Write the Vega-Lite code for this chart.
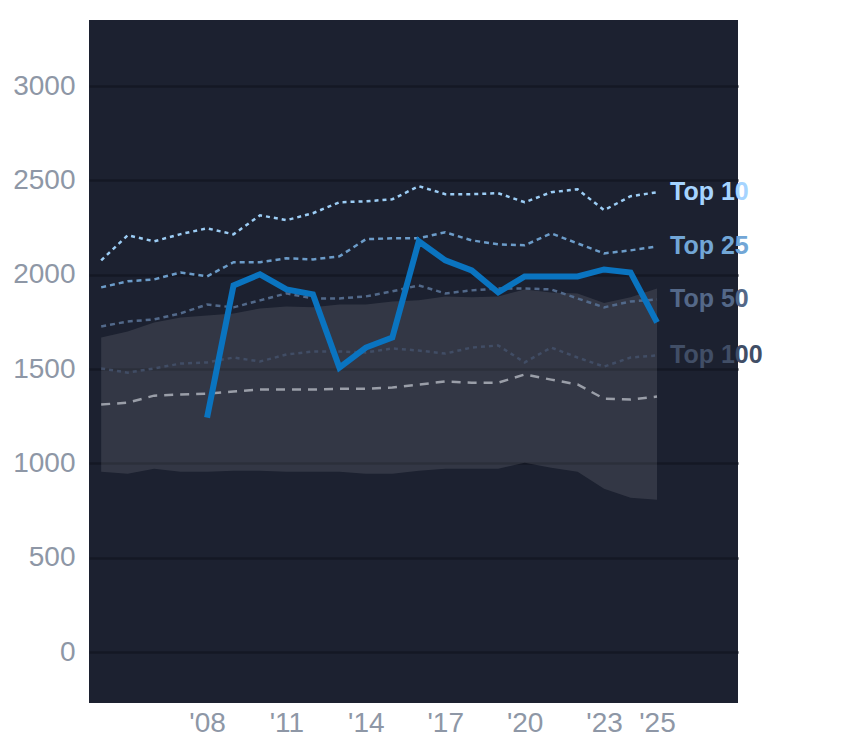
{
  "$schema": "https://vega.github.io/schema/vega-lite/v6.json",
  "width": 649,
  "height": 683,
  "autosize": "none",
  "padding": {"left": 89, "top": 20, "right": 106, "bottom": 45},
  "datasets": {
    "tiers": [
      {"year": 2004, "series": "Top 10", "value": 2076}, {"year": 2005, "series": "Top 10", "value": 2209},
      {"year": 2006, "series": "Top 10", "value": 2177}, {"year": 2007, "series": "Top 10", "value": 2215},
      {"year": 2008, "series": "Top 10", "value": 2246}, {"year": 2009, "series": "Top 10", "value": 2214},
      {"year": 2010, "series": "Top 10", "value": 2315}, {"year": 2011, "series": "Top 10", "value": 2289},
      {"year": 2012, "series": "Top 10", "value": 2326}, {"year": 2013, "series": "Top 10", "value": 2384},
      {"year": 2014, "series": "Top 10", "value": 2389}, {"year": 2015, "series": "Top 10", "value": 2400},
      {"year": 2016, "series": "Top 10", "value": 2469}, {"year": 2017, "series": "Top 10", "value": 2427},
      {"year": 2018, "series": "Top 10", "value": 2427}, {"year": 2019, "series": "Top 10", "value": 2432},
      {"year": 2020, "series": "Top 10", "value": 2384}, {"year": 2021, "series": "Top 10", "value": 2437},
      {"year": 2022, "series": "Top 10", "value": 2453}, {"year": 2023, "series": "Top 10", "value": 2342},
      {"year": 2024, "series": "Top 10", "value": 2416}, {"year": 2025, "series": "Top 10", "value": 2437},

      {"year": 2004, "series": "Top 25", "value": 1933}, {"year": 2005, "series": "Top 25", "value": 1965},
      {"year": 2006, "series": "Top 25", "value": 1975}, {"year": 2007, "series": "Top 25", "value": 2012},
      {"year": 2008, "series": "Top 25", "value": 1991}, {"year": 2009, "series": "Top 25", "value": 2066},
      {"year": 2010, "series": "Top 25", "value": 2066}, {"year": 2011, "series": "Top 25", "value": 2087},
      {"year": 2012, "series": "Top 25", "value": 2081}, {"year": 2013, "series": "Top 25", "value": 2097},
      {"year": 2014, "series": "Top 25", "value": 2188}, {"year": 2015, "series": "Top 25", "value": 2193},
      {"year": 2016, "series": "Top 25", "value": 2193}, {"year": 2017, "series": "Top 25", "value": 2225},
      {"year": 2018, "series": "Top 25", "value": 2182}, {"year": 2019, "series": "Top 25", "value": 2161},
      {"year": 2020, "series": "Top 25", "value": 2156}, {"year": 2021, "series": "Top 25", "value": 2219},
      {"year": 2022, "series": "Top 25", "value": 2166}, {"year": 2023, "series": "Top 25", "value": 2113},
      {"year": 2024, "series": "Top 25", "value": 2129}, {"year": 2025, "series": "Top 25", "value": 2150},

      {"year": 2004, "series": "Top 50", "value": 1726}, {"year": 2005, "series": "Top 50", "value": 1752},
      {"year": 2006, "series": "Top 50", "value": 1763}, {"year": 2007, "series": "Top 50", "value": 1795},
      {"year": 2008, "series": "Top 50", "value": 1842}, {"year": 2009, "series": "Top 50", "value": 1827},
      {"year": 2010, "series": "Top 50", "value": 1864}, {"year": 2011, "series": "Top 50", "value": 1901},
      {"year": 2012, "series": "Top 50", "value": 1874}, {"year": 2013, "series": "Top 50", "value": 1874},
      {"year": 2014, "series": "Top 50", "value": 1885}, {"year": 2015, "series": "Top 50", "value": 1912},
      {"year": 2016, "series": "Top 50", "value": 1943}, {"year": 2017, "series": "Top 50", "value": 1901},
      {"year": 2018, "series": "Top 50", "value": 1917}, {"year": 2019, "series": "Top 50", "value": 1927},
      {"year": 2020, "series": "Top 50", "value": 1927}, {"year": 2021, "series": "Top 50", "value": 1922},
      {"year": 2022, "series": "Top 50", "value": 1874}, {"year": 2023, "series": "Top 50", "value": 1827},
      {"year": 2024, "series": "Top 50", "value": 1858}, {"year": 2025, "series": "Top 50", "value": 1869},

      {"year": 2004, "series": "Top 100", "value": 1503}, {"year": 2005, "series": "Top 100", "value": 1481},
      {"year": 2006, "series": "Top 100", "value": 1503}, {"year": 2007, "series": "Top 100", "value": 1529},
      {"year": 2008, "series": "Top 100", "value": 1535}, {"year": 2009, "series": "Top 100", "value": 1561},
      {"year": 2010, "series": "Top 100", "value": 1540}, {"year": 2011, "series": "Top 100", "value": 1577},
      {"year": 2012, "series": "Top 100", "value": 1593}, {"year": 2013, "series": "Top 100", "value": 1593},
      {"year": 2014, "series": "Top 100", "value": 1588}, {"year": 2015, "series": "Top 100", "value": 1609},
      {"year": 2016, "series": "Top 100", "value": 1598}, {"year": 2017, "series": "Top 100", "value": 1582},
      {"year": 2018, "series": "Top 100", "value": 1614}, {"year": 2019, "series": "Top 100", "value": 1625},
      {"year": 2020, "series": "Top 100", "value": 1535}, {"year": 2021, "series": "Top 100", "value": 1614},
      {"year": 2022, "series": "Top 100", "value": 1561}, {"year": 2023, "series": "Top 100", "value": 1513},
      {"year": 2024, "series": "Top 100", "value": 1561}, {"year": 2025, "series": "Top 100", "value": 1572},

      {"year": 2004, "series": "Median", "value": 1312}, {"year": 2005, "series": "Median", "value": 1322},
      {"year": 2006, "series": "Median", "value": 1359}, {"year": 2007, "series": "Median", "value": 1365},
      {"year": 2008, "series": "Median", "value": 1370}, {"year": 2009, "series": "Median", "value": 1381},
      {"year": 2010, "series": "Median", "value": 1391}, {"year": 2011, "series": "Median", "value": 1391},
      {"year": 2012, "series": "Median", "value": 1391}, {"year": 2013, "series": "Median", "value": 1396},
      {"year": 2014, "series": "Median", "value": 1396}, {"year": 2015, "series": "Median", "value": 1402},
      {"year": 2016, "series": "Median", "value": 1418}, {"year": 2017, "series": "Median", "value": 1434},
      {"year": 2018, "series": "Median", "value": 1428}, {"year": 2019, "series": "Median", "value": 1428},
      {"year": 2020, "series": "Median", "value": 1471}, {"year": 2021, "series": "Median", "value": 1444},
      {"year": 2022, "series": "Median", "value": 1418}, {"year": 2023, "series": "Median", "value": 1343},
      {"year": 2024, "series": "Median", "value": 1338}, {"year": 2025, "series": "Median", "value": 1354}
    ],
    "band": [
      {"year": 2004, "lo": 956, "hi": 1667}, {"year": 2005, "lo": 945, "hi": 1699},
      {"year": 2006, "lo": 972, "hi": 1747}, {"year": 2007, "lo": 956, "hi": 1773},
      {"year": 2008, "lo": 956, "hi": 1784}, {"year": 2009, "lo": 961, "hi": 1795},
      {"year": 2010, "lo": 961, "hi": 1821}, {"year": 2011, "lo": 956, "hi": 1832},
      {"year": 2012, "lo": 956, "hi": 1827}, {"year": 2013, "lo": 956, "hi": 1842},
      {"year": 2014, "lo": 945, "hi": 1842}, {"year": 2015, "lo": 945, "hi": 1858},
      {"year": 2016, "lo": 961, "hi": 1864}, {"year": 2017, "lo": 972, "hi": 1885},
      {"year": 2018, "lo": 972, "hi": 1880}, {"year": 2019, "lo": 972, "hi": 1885},
      {"year": 2020, "lo": 1004, "hi": 1922}, {"year": 2021, "lo": 977, "hi": 1906},
      {"year": 2022, "lo": 956, "hi": 1900}, {"year": 2023, "lo": 866, "hi": 1850},
      {"year": 2024, "lo": 818, "hi": 1880}, {"year": 2025, "lo": 807, "hi": 1927}
    ],
    "main": [
      {"year": 2008, "value": 1243}, {"year": 2009, "value": 1943}, {"year": 2010, "value": 2002},
      {"year": 2011, "value": 1922}, {"year": 2012, "value": 1896}, {"year": 2013, "value": 1508},
      {"year": 2014, "value": 1614}, {"year": 2015, "value": 1667}, {"year": 2016, "value": 2177},
      {"year": 2017, "value": 2076}, {"year": 2018, "value": 2023}, {"year": 2019, "value": 1906},
      {"year": 2020, "value": 1991}, {"year": 2021, "value": 1991}, {"year": 2022, "value": 1991},
      {"year": 2023, "value": 2028}, {"year": 2024, "value": 2012}, {"year": 2025, "value": 1747}
    ]
  },
  "encoding": {
    "x": {
      "field": "year",
      "type": "quantitative",
      "title": null,
      "scale": {"domain": [2003.54, 2028.06], "nice": false, "zero": false},
      "axis": {
        "values": [2008, 2011, 2014, 2017, 2020, 2023, 2025],
        "labelExpr": "\"'\" + substring(toString(datum.value), 2, 4)",
        "grid": false,
        "labelPadding": 6
      }
    }
  },
  "layer": [
    {
      "data": {"name": "band"},
      "mark": {"type": "area", "color": "#ffffff", "opacity": 0.1},
      "encoding": {
        "y": {
          "field": "hi",
          "type": "quantitative",
          "title": null,
          "scale": {"domain": [-270, 3350], "nice": false, "zero": false},
          "axis": {"values": [0, 500, 1000, 1500, 2000, 2500, 3000], "format": "d", "grid": true, "labelPadding": 14}
        },
        "y2": {"field": "lo"}
      }
    },
    {
      "data": {"name": "tiers"},
      "mark": {"type": "line"},
      "encoding": {
        "y": {"field": "value", "type": "quantitative"},
        "detail": {"field": "series"},
        "stroke": {
          "field": "series",
          "scale": {
            "domain": ["Top 10", "Top 25", "Top 50", "Top 100", "Median"],
            "range": ["#9ccdf5", "#6c9cc9", "#52698a", "#414d65", "#9a9ea8"]
          },
          "legend": null
        },
        "strokeDash": {
          "field": "series",
          "scale": {
            "domain": ["Top 10", "Top 25", "Top 50", "Top 100", "Median"],
            "range": [[4, 4], [5, 4], [5, 4], [4, 4], [9, 7]]
          },
          "legend": null
        },
        "strokeWidth": {
          "field": "series",
          "scale": {
            "domain": ["Top 10", "Top 25", "Top 50", "Top 100", "Median"],
            "range": [2.5, 2.5, 2.5, 2.5, 3]
          },
          "legend": null
        }
      }
    },
    {
      "data": {"name": "main"},
      "mark": {"type": "line", "color": "#0a74c0", "strokeWidth": 6},
      "encoding": {
        "y": {"field": "value", "type": "quantitative"}
      }
    },
    {
      "data": {"name": "tiers"},
      "transform": [
        {"filter": "datum.year == 2025 && datum.series != 'Median'"}
      ],
      "mark": {
        "type": "text",
        "align": "left",
        "baseline": "middle",
        "dx": 13,
        "fontSize": 25,
        "fontWeight": "bold",
        "font": "Liberation Sans"
      },
      "encoding": {
        "y": {"field": "value", "type": "quantitative"},
        "text": {"field": "series"},
        "fill": {
          "field": "series",
          "scale": {
            "domain": ["Top 10", "Top 25", "Top 50", "Top 100"],
            "range": ["#a6d4ff", "#72a6d6", "#546888", "#414e66"]
          },
          "legend": null
        }
      }
    }
  ],
  "config": {
    "view": {"fill": "#1c2130", "stroke": null},
    "axis": {
      "domain": false,
      "ticks": false,
      "labelFont": "Liberation Sans",
      "labelFontSize": 28,
      "labelColor": "#8e97a6",
      "gridColor": "#141824",
      "gridWidth": 2.5
    }
  }
}
